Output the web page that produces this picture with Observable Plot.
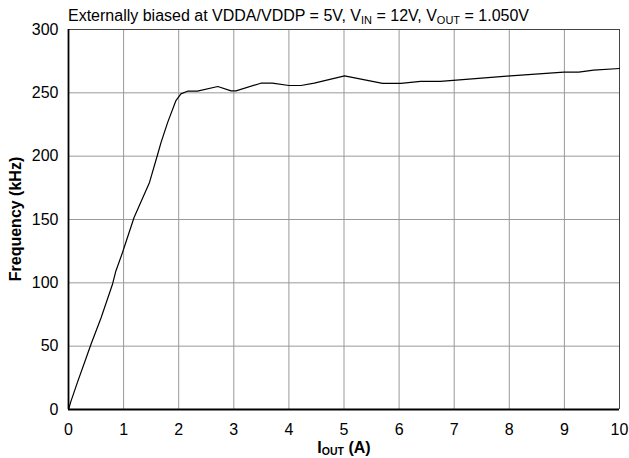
<!DOCTYPE html>
<html>
<head>
<meta charset="utf-8">
<script src="https://cdn.jsdelivr.net/npm/d3@7"></script>
<script src="https://cdn.jsdelivr.net/npm/@observablehq/plot@0.6"></script>
<style>
  html, body { margin: 0; padding: 0; background: #fff; }
  #chart svg { display: block; }
</style>
</head>
<body>
<div id="chart"></div>
<script>
const currentA = [0, 0.045, 0.17, 0.32, 0.41, 0.59, 0.80, 0.86, 0.98, 1.19, 1.47, 1.62, 1.68, 1.80, 1.95, 2.04, 2.16, 2.34, 2.71, 2.95, 3.04, 3.49, 3.70, 4.00, 4.22, 4.46, 5.01, 5.70, 6.03, 6.39, 6.75, 8.02, 8.99, 9.26, 9.53, 10.0];
const freqKHz  = [0, 6.6, 22.4, 40.6, 51.7, 72.2, 99.1, 109.4, 123.9, 151.6, 179.3, 201.7, 210.9, 226.7, 243.9, 249.2, 251.3, 251.3, 255.0, 251.5, 251.5, 257.6, 257.6, 255.8, 255.8, 257.6, 263.4, 257.4, 257.4, 259.0, 259.0, 263.4, 266.3, 266.3, 267.9, 269.2];
const xTicks = [0, 1, 2, 3, 4, 5, 6, 7, 8, 9, 10];
const yTicks = [0, 50, 100, 150, 200, 250, 300];

const data = currentA.map((x, i) => ({x, y: freqKHz[i]}));
const font = "'Liberation Sans', Arial, sans-serif";

const plot = Plot.plot({
  width: 629,
  height: 458,
  marginLeft: 68,
  marginRight: 10,
  marginTop: 29,
  marginBottom: 49,
  style: {fontFamily: font, fontSize: "16px", color: "#000", background: "#fff"},
  x: {domain: [0, 10], label: null},
  y: {domain: [0, 300], label: null},
  marks: [
    Plot.ruleX(xTicks, {stroke: "#999", strokeWidth: 1, strokeOpacity: 1}),
    Plot.ruleY(yTicks, {stroke: "#999", strokeWidth: 1, strokeOpacity: 1}),
    Plot.ruleY([300], {stroke: "#444", strokeWidth: 1}),
    Plot.ruleX([10], {stroke: "#444", strokeWidth: 1}),
    Plot.line(data, {x: "x", y: "y", stroke: "#000", strokeWidth: 1.2}),
    Plot.ruleX([0], {stroke: "#000", strokeWidth: 1.8}),
    Plot.ruleY([0], {stroke: "#000", strokeWidth: 1.8}),
    Plot.axisX(xTicks, {tickSize: 0, tickPadding: 14, label: null, fontSize: 16}),
    Plot.axisY(yTicks, {tickSize: 0, tickPadding: 10, label: null, fontSize: 16})
  ]
});
document.getElementById("chart").appendChild(plot);

const svg = d3.select(plot);
// Title with subscripts
const t = svg.append("text")
  .attr("x", 68).attr("y", 21).attr("text-anchor", "start")
  .attr("font-family", font).attr("font-size", 16).attr("fill", "#000");
t.append("tspan").text("Externally biased at VDDA/VDDP = 5V, V");
t.append("tspan").attr("font-size", 11).attr("dy", 3).text("IN");
t.append("tspan").attr("dy", -3).text(" = 12V, V");
t.append("tspan").attr("font-size", 11).attr("dy", 3).text("OUT");
t.append("tspan").attr("dy", -3).text(" = 1.050V");

// X axis label
const xl = svg.append("text")
  .attr("x", 344).attr("y", 453).attr("text-anchor", "middle")
  .attr("font-family", font).attr("font-size", 16).attr("font-weight", "bold").attr("fill", "#000");
xl.append("tspan").text("I");
xl.append("tspan").attr("font-size", 10.5).attr("dy", 2).text("OUT");
xl.append("tspan").attr("dy", -2).text(" (A)");

// Y axis label
svg.append("text")
  .attr("transform", "translate(21,219) rotate(-90)")
  .attr("text-anchor", "middle")
  .attr("font-family", font).attr("font-size", 16).attr("font-weight", "bold").attr("fill", "#000")
  .text("Frequency (kHz)");
</script>
</body>
</html>
